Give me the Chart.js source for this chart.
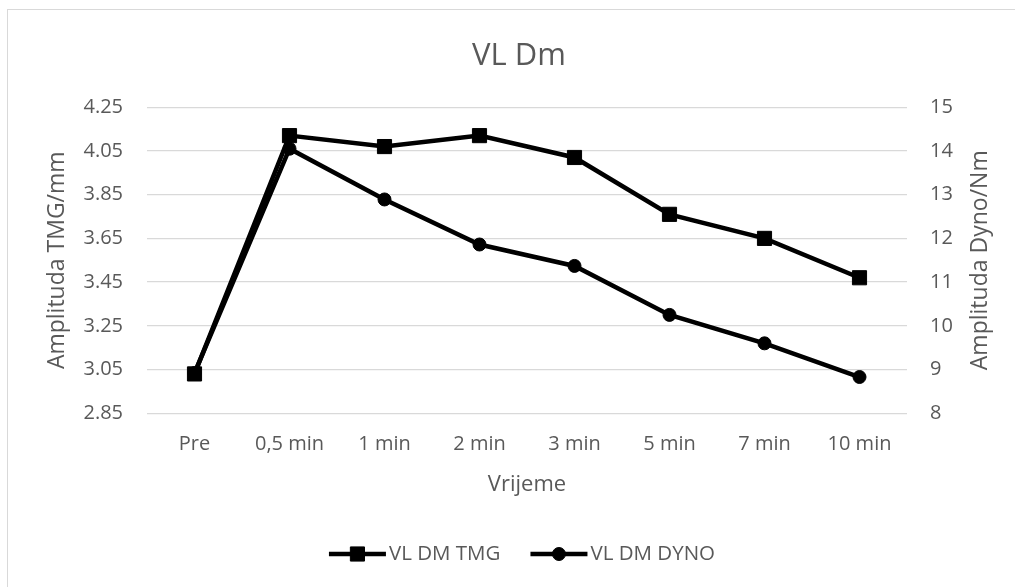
<!DOCTYPE html>
<html>
<head>
<meta charset="utf-8">
<script src="https://cdn.jsdelivr.net/npm/chart.js@4/dist/chart.umd.min.js"></script>
<style>
  html, body { margin: 0; padding: 0; background: #ffffff; }
  #wrap { position: relative; width: 1015px; height: 587px; }
</style>
</head>
<body>
<div id="wrap"><canvas id="c" width="1015" height="587"></canvas></div>
<script>
const categories = ["Pre", "0,5 min", "1 min", "2 min", "3 min", "5 min", "7 min", "10 min"];
const tmgValues = [3.03, 4.12, 4.07, 4.12, 4.02, 3.76, 3.65, 3.47];
const dynoValues = [8.92, 14.05, 12.89, 11.86, 11.37, 10.25, 9.60, 8.83];
const leftTicks = [2.85, 3.05, 3.25, 3.45, 3.65, 3.85, 4.05, 4.25];
const rightTicks = [8, 9, 10, 11, 12, 13, 14, 15];
const seriesNames = ["VL DM TMG", "VL DM DYNO"];
const rightAxisTitle = "Amplituda Dyno/Nm";

const FONT = "'Open Sans', 'DejaVu Sans', sans-serif";
const TEXT = "#595959";
const GRID = "#d9d9d9";

const frame = {
  id: 'frame',
  beforeDraw(chart) {
    const ctx = chart.ctx;
    ctx.save();
    ctx.fillStyle = '#ffffff';
    ctx.fillRect(0, 0, chart.width, chart.height);
    ctx.strokeStyle = GRID;
    ctx.lineWidth = 1;
    ctx.strokeRect(7.5, 9.5, 1200, 800);
    ctx.restore();
  }
};

const rightTitle = {
  id: 'rightTitle',
  afterDraw(chart) {
    const ctx = chart.ctx;
    const area = chart.chartArea;
    const s = chart.scales.yR;
    ctx.save();
    ctx.font = "23px " + FONT;
    ctx.fillStyle = TEXT;
    ctx.textAlign = 'center';
    ctx.textBaseline = 'middle';
    ctx.translate(s.right - 17, (area.top + area.bottom) / 2);
    ctx.rotate(-Math.PI / 2);
    ctx.fillText(rightAxisTitle, 0, 0);
    ctx.restore();
  }
};

const bottomLegend = {
  id: 'bottomLegend',
  afterDraw(chart) {
    const ctx = chart.ctx;
    const lineLen = 57, textGap = 3, itemGap = 30, y = 554;
    ctx.save();
    ctx.font = "20.5px " + FONT;
    const items = chart.data.datasets.map(ds => ({ ds, w: ctx.measureText(ds.label).width }));
    let total = 0;
    items.forEach((it, i) => { total += lineLen + textGap + it.w + (i ? itemGap : 0); });
    let x = 522 - total / 2;
    items.forEach((it, i) => {
      if (i) x += itemGap;
      const ds = it.ds;
      ctx.strokeStyle = ds.borderColor;
      ctx.lineWidth = ds.borderWidth;
      ctx.lineCap = 'butt';
      ctx.beginPath();
      ctx.moveTo(x, y);
      ctx.lineTo(x + lineLen, y);
      ctx.stroke();
      ctx.fillStyle = ds.pointBackgroundColor;
      ctx.strokeStyle = ds.pointBorderColor;
      ctx.lineWidth = ds.pointBorderWidth;
      Chart.helpers.drawPoint(ctx, { pointStyle: ds.pointStyle, radius: ds.pointRadius, borderWidth: ds.pointBorderWidth, rotation: 0 }, x + lineLen / 2, y);
      ctx.fillStyle = TEXT;
      ctx.textAlign = 'left';
      ctx.textBaseline = 'middle';
      ctx.fillText(ds.label, x + lineLen + textGap, y);
      x += lineLen + textGap + it.w;
    });
    ctx.restore();
  }
};

new Chart(document.getElementById('c'), {
  type: 'line',
  data: {
    labels: categories,
    datasets: [
      {
        label: seriesNames[0],
        data: tmgValues,
        yAxisID: 'yL',
        borderColor: '#000000',
        backgroundColor: '#000000',
        borderWidth: 4.5,
        pointStyle: 'rect',
        pointRadius: 10,
        pointBackgroundColor: '#000000',
        pointBorderColor: '#000000',
        pointBorderWidth: 1,
        tension: 0,
        fill: false
      },
      {
        label: seriesNames[1],
        data: dynoValues,
        yAxisID: 'yR',
        borderColor: '#000000',
        backgroundColor: '#000000',
        borderWidth: 4.5,
        pointStyle: 'circle',
        pointRadius: 6.5,
        pointBackgroundColor: '#000000',
        pointBorderColor: '#000000',
        pointBorderWidth: 1,
        tension: 0,
        fill: false
      }
    ]
  },
  options: {
    responsive: false,
    animation: false,
    devicePixelRatio: 1,
    layout: { padding: { left: 41, right: 18, top: 10, bottom: 80 } },
    plugins: {
      legend: { display: false },
      tooltip: { enabled: false },
      title: {
        display: true,
        text: 'VL Dm',
        color: TEXT,
        font: { family: FONT, size: 31, weight: 'normal' },
        padding: { top: 28, bottom: 32 }
      }
    },
    scales: {
      x: {
        offset: true,
        grid: { display: false, drawTicks: false },
        border: { display: false },
        ticks: { color: TEXT, font: { family: FONT, size: 20 }, padding: 19, maxRotation: 0, autoSkip: false },
        title: { display: true, text: 'Vrijeme', color: TEXT, font: { family: FONT, size: 22 }, padding: { top: 4, bottom: 9 } },
        afterFit(scale) { scale.height = 93.7; }
      },
      yL: {
        position: 'left',
        min: 2.85,
        max: 4.25,
        grid: { color: GRID, lineWidth: 1.3, drawTicks: false },
        border: { display: false },
        afterBuildTicks(scale) { scale.ticks = leftTicks.map(v => ({ value: v })); },
        ticks: { color: TEXT, font: { family: FONT, size: 20 }, padding: 24, callback: v => Number(v).toFixed(2) },
        title: { display: true, text: 'Amplituda TMG/mm', color: TEXT, font: { family: FONT, size: 23 }, padding: 3 },
        afterFit(scale) { scale.width = 106; }
      },
      yR: {
        position: 'right',
        min: 8,
        max: 15,
        grid: { drawOnChartArea: false, drawTicks: false },
        border: { display: false },
        afterBuildTicks(scale) { scale.ticks = rightTicks.map(v => ({ value: v })); },
        ticks: { color: TEXT, font: { family: FONT, size: 20 }, padding: 23, callback: v => String(v) },
        title: { display: false },
        afterFit(scale) { scale.width = 90; }
      }
    }
  },
  plugins: [frame, rightTitle, bottomLegend]
});
</script>
</body>
</html>
